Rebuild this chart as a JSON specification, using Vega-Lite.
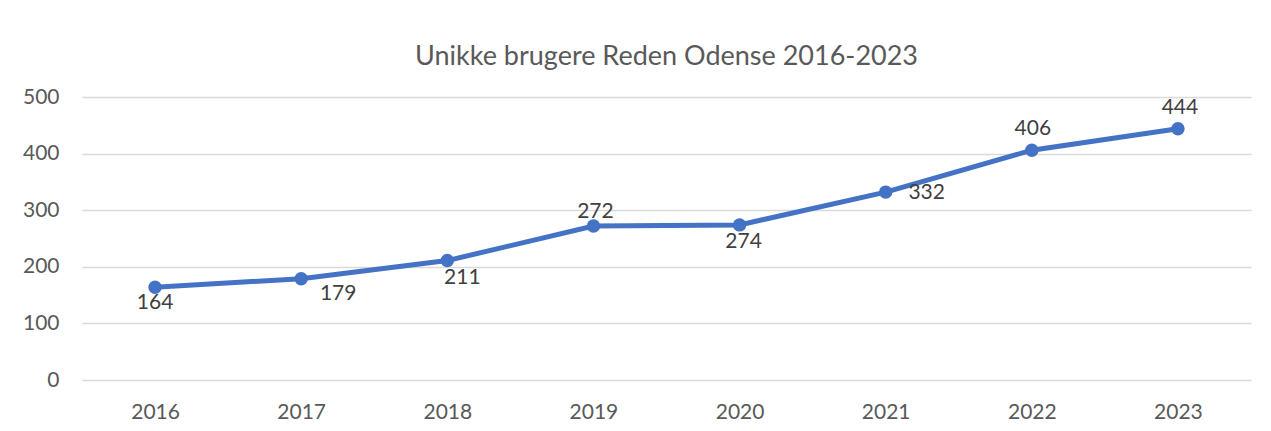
{
  "$schema": "https://vega.github.io/schema/vega-lite/v6.json",
  "width": 1169,
  "height": 283,
  "autosize": {"type": "none"},
  "padding": {"left": 82, "top": 97, "right": 20, "bottom": 51},
  "background": "white",
  "config": {"view": {"stroke": null}, "font": "Lato"},
  "title": {
    "text": "Unikke brugere Reden Odense 2016-2023",
    "fontSize": 27,
    "font": "Lato",
    "fontWeight": "normal",
    "color": "#595959",
    "anchor": "middle",
    "offset": -6,
    "baseline": "alphabetic"
  },
  "data": {
    "values": [
      {"year": "2016", "users": 164},
      {"year": "2017", "users": 179},
      {"year": "2018", "users": 211},
      {"year": "2019", "users": 272},
      {"year": "2020", "users": 274},
      {"year": "2021", "users": 332},
      {"year": "2022", "users": 406},
      {"year": "2023", "users": 444}
    ]
  },
  "encoding": {
    "x": {
      "field": "year",
      "type": "ordinal",
      "scale": {"padding": 0.5},
      "axis": {
        "title": null,
        "labelAngle": 0,
        "domain": false,
        "ticks": false,
        "grid": false,
        "labelFontSize": 21,
        "labelColor": "#595959",
        "labelPadding": 21
      }
    },
    "y": {
      "field": "users",
      "type": "quantitative",
      "scale": {"domain": [0, 500]},
      "axis": {
        "title": null,
        "values": [0, 100, 200, 300, 400, 500],
        "domain": false,
        "ticks": false,
        "grid": true,
        "gridColor": "#D9D9D9",
        "gridWidth": 1.5,
        "labelFontSize": 21,
        "labelColor": "#595959",
        "labelPadding": 23
      }
    }
  },
  "layer": [
    {"mark": {"type": "line", "color": "#4472C4", "strokeWidth": 5}},
    {"mark": {"type": "point", "filled": true, "opacity": 1, "size": 180, "color": "#4472C4"}},
    {
      "transform": [{"filter": "datum.year == '2016'"}],
      "mark": {"type": "text", "dx": 0, "dy": 16, "fontSize": 21, "color": "#404040", "baseline": "middle", "align": "center"},
      "encoding": {"text": {"field": "users"}}
    },
    {
      "transform": [{"filter": "datum.year == '2017'"}],
      "mark": {"type": "text", "dx": 37, "dy": 15, "fontSize": 21, "color": "#404040", "baseline": "middle", "align": "center"},
      "encoding": {"text": {"field": "users"}}
    },
    {
      "transform": [{"filter": "datum.year == '2018'"}],
      "mark": {"type": "text", "dx": 15, "dy": 17, "fontSize": 21, "color": "#404040", "baseline": "middle", "align": "center"},
      "encoding": {"text": {"field": "users"}}
    },
    {
      "transform": [{"filter": "datum.year == '2019'"}],
      "mark": {"type": "text", "dx": 2, "dy": -14, "fontSize": 21, "color": "#404040", "baseline": "middle", "align": "center"},
      "encoding": {"text": {"field": "users"}}
    },
    {
      "transform": [{"filter": "datum.year == '2020'"}],
      "mark": {"type": "text", "dx": 4, "dy": 17, "fontSize": 21, "color": "#404040", "baseline": "middle", "align": "center"},
      "encoding": {"text": {"field": "users"}}
    },
    {
      "transform": [{"filter": "datum.year == '2021'"}],
      "mark": {"type": "text", "dx": 41, "dy": 1, "fontSize": 21, "color": "#404040", "baseline": "middle", "align": "center"},
      "encoding": {"text": {"field": "users"}}
    },
    {
      "transform": [{"filter": "datum.year == '2022'"}],
      "mark": {"type": "text", "dx": 1, "dy": -21, "fontSize": 21, "color": "#404040", "baseline": "middle", "align": "center"},
      "encoding": {"text": {"field": "users"}}
    },
    {
      "transform": [{"filter": "datum.year == '2023'"}],
      "mark": {"type": "text", "dx": 2, "dy": -21, "fontSize": 21, "color": "#404040", "baseline": "middle", "align": "center"},
      "encoding": {"text": {"field": "users"}}
    }
  ]
}
